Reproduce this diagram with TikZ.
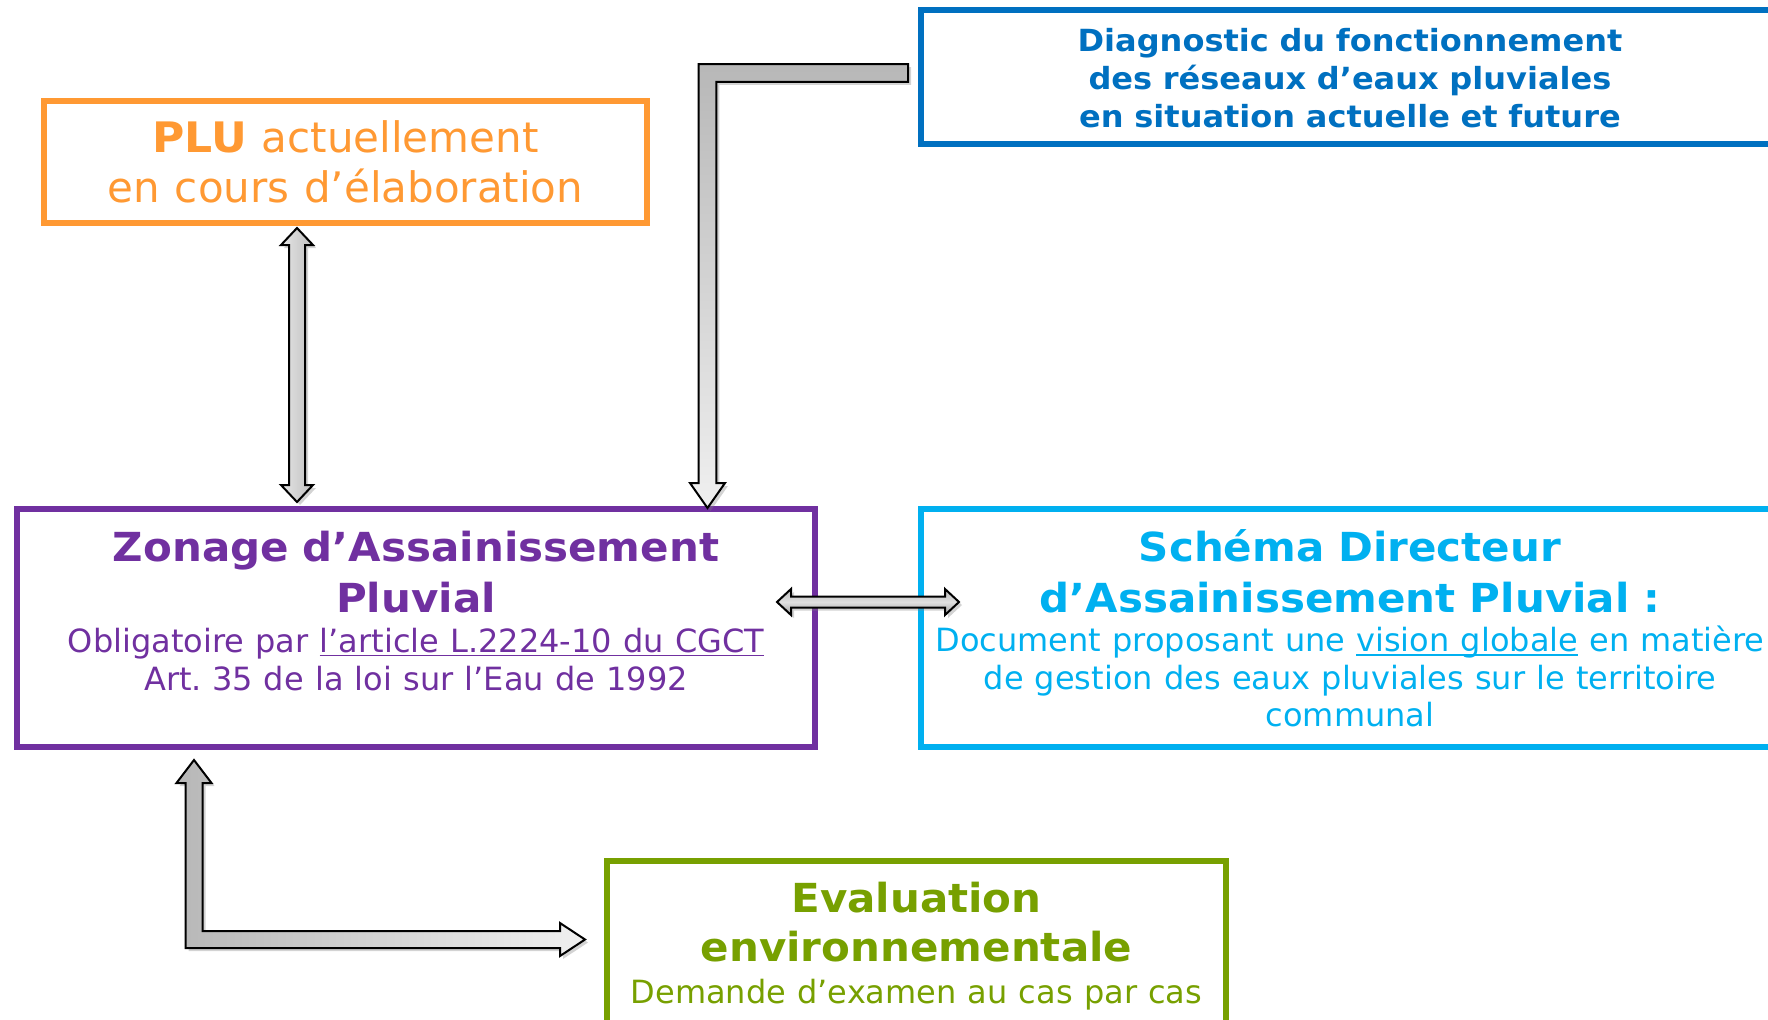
\documentclass[tikz,border=0pt]{standalone}
\usepackage{fontspec}
\setmainfont{DejaVu Sans}[BoldFeatures = {FakeStretch = 1.05}]
\usetikzlibrary{positioning,calc,shadows}
\definecolor{orplu}{HTML}{FF9933}
\definecolor{bldiag}{HTML}{0070C0}
\definecolor{vizap}{HTML}{7030A0}
\definecolor{cysdap}{HTML}{00B0F0}
\definecolor{veeval}{HTML}{77A000}
\newcommand{\souligne}[1]{{\setbox0\hbox{#1}\rlap{\rule[-1.8pt]{\wd0}{0.7pt}}\box0}}
\newcommand{\corps}[2]{\fontsize{#1}{#2}\selectfont\spaceskip=.35em\relax}
\tikzset{
    %Define style for boxes
    boite/.style={
           rectangle,
           draw, line width = 3pt,
           inner sep = 0pt},
    %Define style for texts in boxes
    txt/.style={
           text width = 440pt,
           inner sep = 0pt},
    % Define block arrow style
    fleche/.style={
           draw = black, line width = 1pt,
           drop shadow = {shadow xshift = 1.5pt, shadow yshift = -1.5pt, opacity = .35}}
}

\begin{document}
\begin{tikzpicture}[x=0.5pt, y=-0.5pt]
\useasboundingbox (0,0) rectangle (1768,1019);
\clip (0,0) rectangle (1768,1019);
 %boxes
\node[boite, draw = vizap, minimum width = 399pt, minimum height = 119pt] (ZAP) at (416,628) {};
\node[boite, draw = cysdap, minimum width = 429pt, minimum height = 119pt, right = 50pt of ZAP] (SDAP) {};
\node[boite, draw = bldiag, minimum width = 429pt, minimum height = 67pt, above = 179.5pt of SDAP] (DIAG) {};
\node[boite, draw = orplu, minimum width = 301.5pt, minimum height = 61pt] (PLU) at (345.5,162) {};
\node[boite, draw = veeval, minimum width = 309.5pt, minimum height = 115pt] (EVAL) at (916.5,976) {};
 %texts
\node[txt, text = orplu, below = 11pt of PLU.north] (PLUtxt)
    {\centering\corps{21}{25}\textbf{PLU} actuellement\par en cours d’élaboration\par};
\node[txt, text = bldiag, below = 10.5pt of DIAG.north] (DIAGtxt)
    {\centering\corps{15.25}{19}\bfseries Diagnostic du fonctionnement\par des réseaux d’eaux pluviales\par en situation actuelle et future\par};
\node[txt, text = vizap, below = 12.5pt of ZAP.north] (ZAPtxt)
    {\centering\corps{20}{25.5}\bfseries Zonage d’Assainissement\par Pluvial\par\vspace{1pt}
     \corps{16}{19}\mdseries Obligatoire par \souligne{l’article L.2224-10 du CGCT}\par Art. 35 de la loi sur l’Eau de 1992\par};
\node[txt, text = cysdap, below = 11.5pt of SDAP.north] (SDAPtxt)
    {\centering\corps{20}{25.5}\bfseries Schéma Directeur\par d’Assainissement Pluvial~:\par\vspace{1pt}
     \corps{16}{18.75}\mdseries Document proposant une \souligne{vision globale} en matière\par de gestion des eaux pluviales sur le territoire\par communal\par};
\node[txt, text = veeval, below = 12pt of EVAL.north] (EVALtxt)
    {\centering\corps{20}{24.5}\bfseries Evaluation\par environnementale\par
     \corps{16}{21}\mdseries Demande d’examen au cas par cas\par};
 %arrow ends
\coordinate (a1) at ($(PLU.south)+(-48.5,2)$);
\coordinate (a2) at ($(a1 |- ZAP.north)+(0,-4)$);
\coordinate (b1) at ($(DIAG.west)+(-10,-4)$);
\coordinate (b2) at ($(ZAP.north)+(291.5,2)$);
\coordinate (c1) at ($(ZAP.east)+(-41,-26)$);
\coordinate (c2) at ($(SDAP.west)+(41,-26)$);
\coordinate (d1) at ($(ZAP.south)+(-222,10)$);
\coordinate (d2) at ($(EVAL.west)+(-19,-36.5)$);
 %arrows
\draw[fleche, left color = black!10, right color = black!25] let \p1 = (a1), \p2 = (a2) in
    (\x1,\y1) -- (\x1+8pt,\y1-8.5pt) -- (\x1+4pt,\y1-8.5pt) -- (\x1+4pt,\y2+8.5pt) -- (\x1+8pt,\y2+8.5pt)
    -- (\x2,\y2) -- (\x1-8pt,\y2+8.5pt) -- (\x1-4pt,\y2+8.5pt) -- (\x1-4pt,\y1-8.5pt) -- (\x1-8pt,\y1-8.5pt) -- cycle;
\draw[fleche, top color = black!28, bottom color = black!6] let \p1 = (b1), \p2 = (b2) in
    (\x1,\y1+4.4pt) -- (\x2-4.4pt,\y1+4.4pt) -- (\x2-4.4pt,\y2+12.5pt) -- (\x2-8.75pt,\y2+12.5pt) -- (\x2,\y2)
    -- (\x2+8.75pt,\y2+12.5pt) -- (\x2+4.4pt,\y2+12.5pt) -- (\x2+4.4pt,\y1-4.4pt) -- (\x1,\y1-4.4pt) -- cycle;
\draw[fleche, top color = black!28, bottom color = black!38, middle color = black!12] let \p1 = (c1), \p2 = (c2) in
    (\x1,\y1) -- (\x1+7pt,\y1+6.5pt) -- (\x1+7pt,\y1+2.75pt) -- (\x2-7pt,\y1+2.75pt) -- (\x2-7pt,\y1+6.5pt)
    -- (\x2,\y2) -- (\x2-7pt,\y2-6.5pt) -- (\x2-7pt,\y2-2.75pt) -- (\x1+7pt,\y1-2.75pt) -- (\x1+7pt,\y1-6.5pt) -- cycle;
\draw[fleche, left color = black!28, right color = black!6] let \p1 = (d1), \p2 = (d2) in
    (\x1,\y1) -- (\x1+8.75pt,\y1-11.5pt) -- (\x1+4.25pt,\y1-11.5pt) -- (\x1+4.25pt,\y2+4.25pt) -- (\x2-12.5pt,\y2+4.25pt)
    -- (\x2-12.5pt,\y2+8.25pt) -- (\x2,\y2) -- (\x2-12.5pt,\y2-8.25pt) -- (\x2-12.5pt,\y2-4.25pt) -- (\x1-4.25pt,\y2-4.25pt)
    -- (\x1-4.25pt,\y1-11.5pt) -- (\x1-8.75pt,\y1-11.5pt) -- cycle;
\end{tikzpicture}
\end{document}
